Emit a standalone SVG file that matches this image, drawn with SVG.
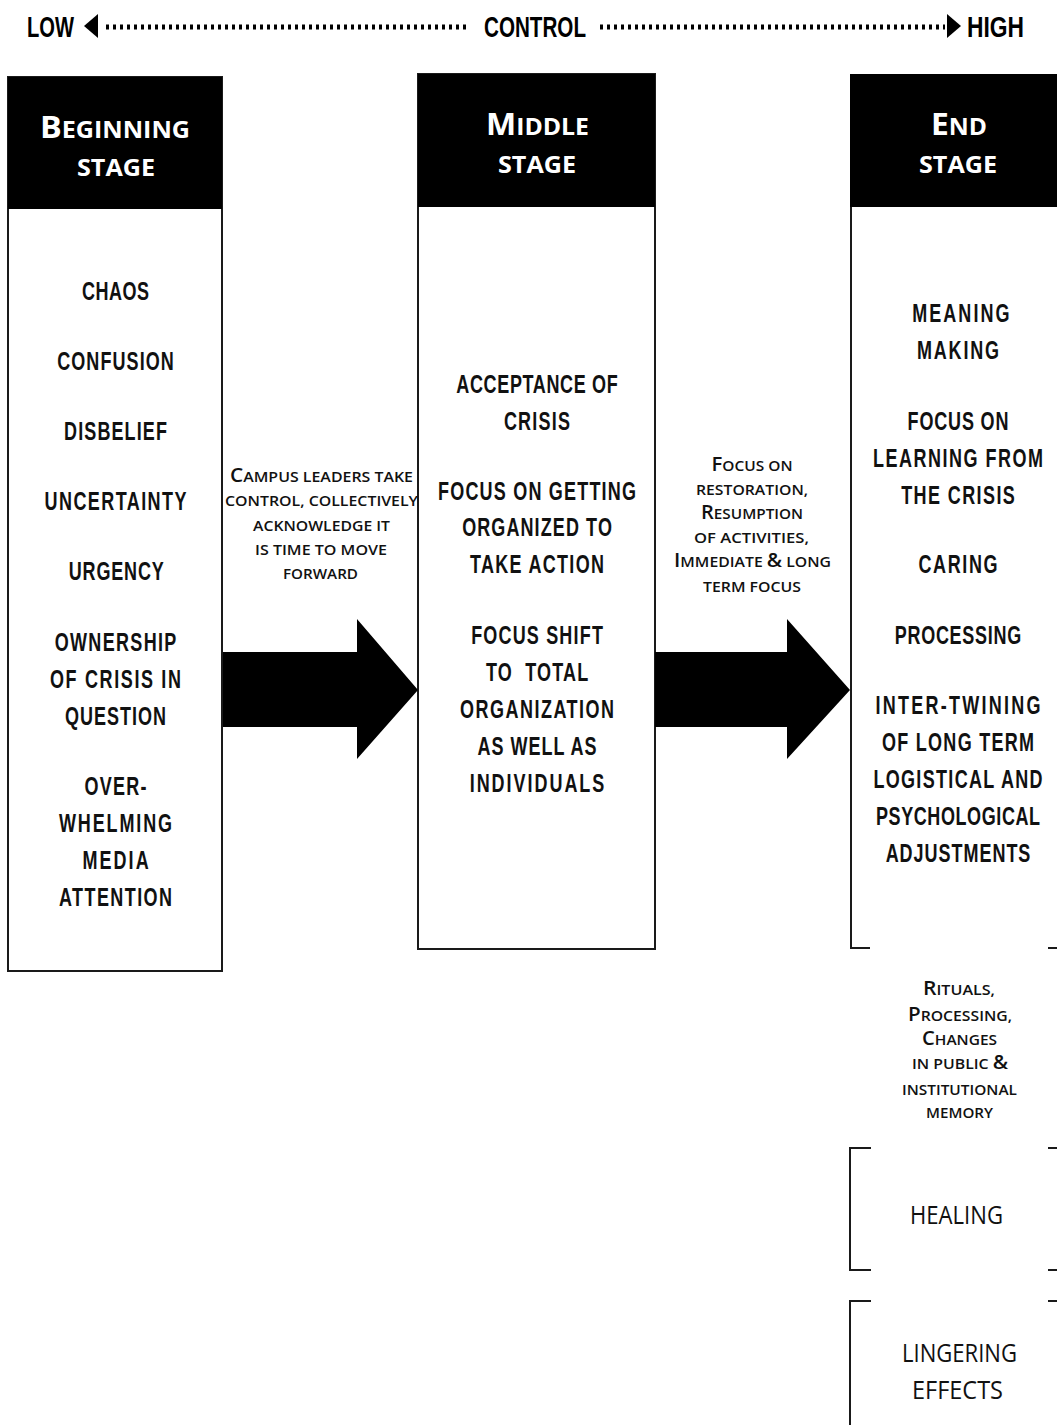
<svg xmlns="http://www.w3.org/2000/svg" width="1057" height="1425" viewBox="0 0 1057 1425">
<style>
.bg{fill:#fff}
.box{fill:#fff;stroke:#1a1a1a;stroke-width:2}
.hdr{fill:#000}
.ln{fill:none;stroke:#1a1a1a;stroke-width:2}
.top{font-family:"Liberation Sans",Arial,sans-serif;font-weight:bold;font-size:29px;fill:#000}
.body{font-family:"Liberation Sans",Arial,sans-serif;font-weight:bold;font-size:25px;fill:#111;text-anchor:middle}
.head{font-family:"Open Sans","Liberation Sans",sans-serif;font-weight:bold;font-size:24px;fill:#fff;text-anchor:middle}
.head .big{font-size:31px}
.sc{font-family:"Open Sans","Liberation Sans",sans-serif;font-weight:600;font-size:14.5px;fill:#111;text-anchor:middle}
.sc .big{font-size:19px}
.lt{font-family:"Open Sans","Liberation Sans",sans-serif;font-weight:normal;font-size:25px;fill:#111;text-anchor:middle}
.dots{stroke:#000;stroke-width:5;stroke-dasharray:3 4;fill:none}
.arrow{fill:#000}
</style>
<rect class="bg" x="0" y="0" width="1057" height="1425"/>

<g id="control-scale">
  <text class="top" x="27" y="37" textLength="47" lengthAdjust="spacingAndGlyphs">LOW</text>
  <polygon class="arrow" points="84,26 98,14 98,38"/>
  <line class="dots" x1="106" y1="27" x2="467" y2="27"/>
  <text class="top" x="484" y="37" textLength="102" lengthAdjust="spacingAndGlyphs">CONTROL</text>
  <line class="dots" x1="600" y1="27" x2="945" y2="27"/>
  <polygon class="arrow" points="961,26 947,14 947,38"/>
  <text class="top" x="967" y="37" textLength="57" lengthAdjust="spacingAndGlyphs">HIGH</text>
</g>

<g id="beginning-stage">
  <rect class="box" x="8" y="77" width="214" height="894"/>
  <rect class="hdr" x="8" y="77" width="214" height="132"/>
  <text class="head" x="115" y="138" textLength="150" lengthAdjust="spacingAndGlyphs"><tspan class="big">B</tspan>EGINNING</text>
  <text class="head" x="116" y="176" textLength="78" lengthAdjust="spacingAndGlyphs">STAGE</text>
  <g transform="translate(115.5,0) scale(0.72,1)">
    <text class="body" x="0" y="300" textLength="93" lengthAdjust="spacing">CHAOS</text>
    <text class="body" x="0" y="370" textLength="162" lengthAdjust="spacing">CONFUSION</text>
    <text class="body" x="0" y="440" textLength="143" lengthAdjust="spacing">DISBELIEF</text>
    <text class="body" x="0" y="510" textLength="197" lengthAdjust="spacing">UNCERTAINTY</text>
    <text class="body" x="1" y="580" textLength="132" lengthAdjust="spacing">URGENCY</text>
    <text class="body" x="0" y="651" textLength="169" lengthAdjust="spacing">OWNERSHIP</text>
    <text class="body" x="0" y="688" textLength="182" lengthAdjust="spacing">OF CRISIS IN</text>
    <text class="body" x="0" y="725" textLength="140" lengthAdjust="spacing">QUESTION</text>
    <text class="body" x="0" y="795" textLength="86" lengthAdjust="spacing">OVER-</text>
    <text class="body" x="0" y="832" textLength="157" lengthAdjust="spacing">WHELMING</text>
    <text class="body" x="0" y="869" textLength="92" lengthAdjust="spacing">MEDIA</text>
    <text class="body" x="0" y="906" textLength="157" lengthAdjust="spacing">ATTENTION</text>
  </g>
</g>

<g id="middle-stage">
  <rect class="box" x="418" y="74" width="237" height="875"/>
  <rect class="hdr" x="418" y="74" width="237" height="133"/>
  <text class="head" x="537.5" y="135" textLength="103" lengthAdjust="spacingAndGlyphs"><tspan class="big">M</tspan>IDDLE</text>
  <text class="head" x="537" y="173" textLength="78" lengthAdjust="spacingAndGlyphs">STAGE</text>
  <g transform="translate(537,0) scale(0.72,1)">
    <text class="body" x="0" y="393" textLength="224" lengthAdjust="spacing">ACCEPTANCE OF</text>
    <text class="body" x="0" y="430" textLength="92" lengthAdjust="spacing">CRISIS</text>
    <text class="body" x="0" y="500" textLength="275" lengthAdjust="spacing">FOCUS ON GETTING</text>
    <text class="body" x="0" y="536" textLength="208" lengthAdjust="spacing">ORGANIZED TO</text>
    <text class="body" x="0" y="573" textLength="186" lengthAdjust="spacing">TAKE ACTION</text>
    <text class="body" x="0" y="644" textLength="183" lengthAdjust="spacing">FOCUS SHIFT</text>
    <text class="body" x="0" y="681" textLength="142" lengthAdjust="spacing">TO&#160; TOTAL</text>
    <text class="body" x="0" y="718" textLength="214" lengthAdjust="spacing">ORGANIZATION</text>
    <text class="body" x="0" y="755" textLength="165" lengthAdjust="spacing">AS WELL AS</text>
    <text class="body" x="0" y="792" textLength="187" lengthAdjust="spacing">INDIVIDUALS</text>
  </g>
</g>

<g id="end-stage">
  <rect class="hdr" x="850" y="74" width="207" height="133"/>
  <path class="ln" d="M851,207 V948 H870 M1048,948 H1057"/>
  <text class="head" x="959" y="135" textLength="56" lengthAdjust="spacingAndGlyphs"><tspan class="big">E</tspan>ND</text>
  <text class="head" x="958" y="173" textLength="78" lengthAdjust="spacingAndGlyphs">STAGE</text>
  <g transform="translate(958,0) scale(0.72,1)">
    <text class="body" x="4" y="322" textLength="135" lengthAdjust="spacing">MEANING</text>
    <text class="body" x="0" y="359" textLength="114" lengthAdjust="spacing">MAKING</text>
    <text class="body" x="0" y="430" textLength="140" lengthAdjust="spacing">FOCUS ON</text>
    <text class="body" x="0" y="467" textLength="236" lengthAdjust="spacing">LEARNING FROM</text>
    <text class="body" x="0" y="504" textLength="158" lengthAdjust="spacing">THE CRISIS</text>
    <text class="body" x="0" y="573" textLength="110" lengthAdjust="spacing">CARING</text>
    <text class="body" x="0" y="644" textLength="176" lengthAdjust="spacing">PROCESSING</text>
    <text class="body" x="0" y="714" textLength="229" lengthAdjust="spacing">INTER-TWINING</text>
    <text class="body" x="0" y="751" textLength="211" lengthAdjust="spacing">OF LONG TERM</text>
    <text class="body" x="0" y="788" textLength="235" lengthAdjust="spacing">LOGISTICAL AND</text>
    <text class="body" x="0" y="825" textLength="228" lengthAdjust="spacing">PSYCHOLOGICAL</text>
    <text class="body" x="0" y="862" textLength="201" lengthAdjust="spacing">ADJUSTMENTS</text>
  </g>
</g>

<g id="rituals">
  <text class="sc" x="959" y="995" textLength="72" lengthAdjust="spacingAndGlyphs"><tspan class="big">R</tspan>ITUALS,</text>
  <text class="sc" x="960" y="1021" textLength="104" lengthAdjust="spacingAndGlyphs"><tspan class="big">P</tspan>ROCESSING,</text>
  <text class="sc" x="959.5" y="1045" textLength="75" lengthAdjust="spacingAndGlyphs"><tspan class="big">C</tspan>HANGES</text>
  <text class="sc" x="960" y="1069" textLength="96" lengthAdjust="spacingAndGlyphs">IN PUBLIC <tspan class="big">&amp;</tspan></text>
  <text class="sc" x="959.5" y="1095" textLength="115" lengthAdjust="spacingAndGlyphs">INSTITUTIONAL</text>
  <text class="sc" x="959.5" y="1118" textLength="67" lengthAdjust="spacingAndGlyphs">MEMORY</text>
</g>

<g id="healing">
  <path class="ln" d="M871,1148 H850 V1270 H871 M1048,1148 H1057 M1048,1270 H1057"/>
  <text class="lt" x="956.5" y="1224" textLength="93" lengthAdjust="spacingAndGlyphs">HEALING</text>
</g>

<g id="lingering-effects">
  <path class="ln" d="M871,1301 H850 V1425 M1048,1301 H1057"/>
  <text class="lt" x="959.5" y="1362" textLength="115" lengthAdjust="spacingAndGlyphs">LINGERING</text>
  <text class="lt" x="957.5" y="1399" textLength="91" lengthAdjust="spacingAndGlyphs">EFFECTS</text>
</g>

<g id="connectors">
  <g id="arrow-beginning-middle">
    <polygon class="arrow" points="223,652 357,652 357,619 418,690 357,759 357,727 223,727"/>
    <text class="sc" x="321.5" y="482" textLength="183" lengthAdjust="spacingAndGlyphs"><tspan class="big">C</tspan>AMPUS LEADERS TAKE</text>
    <text class="sc" x="321.5" y="506" textLength="193" lengthAdjust="spacingAndGlyphs">CONTROL, COLLECTIVELY</text>
    <text class="sc" x="321.5" y="531" textLength="137" lengthAdjust="spacingAndGlyphs">ACKNOWLEDGE IT</text>
    <text class="sc" x="321" y="555" textLength="132" lengthAdjust="spacingAndGlyphs">IS TIME TO MOVE</text>
    <text class="sc" x="320.5" y="579" textLength="75" lengthAdjust="spacingAndGlyphs">FORWARD</text>
  </g>
  <g id="arrow-middle-end">
    <polygon class="arrow" points="655,652 787,652 787,619 850,690 787,759 787,727 655,727"/>
    <text class="sc" x="752" y="471" textLength="81" lengthAdjust="spacingAndGlyphs"><tspan class="big">F</tspan>OCUS ON</text>
    <text class="sc" x="752" y="495" textLength="112" lengthAdjust="spacingAndGlyphs">RESTORATION,</text>
    <text class="sc" x="752" y="519" textLength="102" lengthAdjust="spacingAndGlyphs"><tspan class="big">R</tspan>ESUMPTION</text>
    <text class="sc" x="751.5" y="543" textLength="115" lengthAdjust="spacingAndGlyphs">OF ACTIVITIES,</text>
    <text class="sc" x="752.5" y="567" textLength="157" lengthAdjust="spacingAndGlyphs"><tspan class="big">I</tspan>MMEDIATE <tspan class="big">&amp;</tspan> LONG</text>
    <text class="sc" x="752" y="592" textLength="98" lengthAdjust="spacingAndGlyphs">TERM FOCUS</text>
  </g>
</g>
</svg>
